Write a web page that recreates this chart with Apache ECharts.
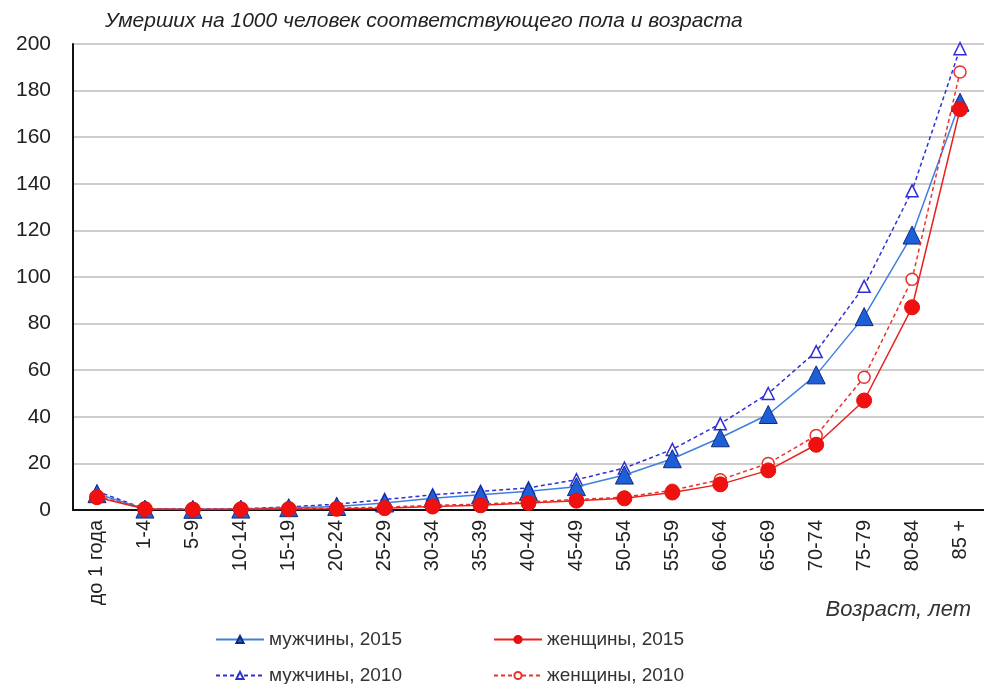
<!DOCTYPE html>
<html>
<head>
<meta charset="utf-8">
<script src="https://cdn.jsdelivr.net/npm/echarts@6/dist/echarts.min.js"></script>
<style>
  html, body { margin: 0; padding: 0; background: #fff; }
  #chart { width: 984px; height: 684px; }
</style>
</head>
<body>
<div id="chart"></div>
<script>
// возрастные группы
var ages = ['до 1 года', '1-4', '5-9', '10-14', '15-19', '20-24', '25-29', '30-34', '35-39',
  '40-44', '45-49', '50-54', '55-59', '60-64', '65-69', '70-74', '75-79', '80-84', '85 +'];

// умерших на 1000 человек
var men2015 = [7, 0.4, 0.3, 0.4, 1, 1.5, 3, 5, 6.5, 8, 10, 15, 22, 31, 41, 58, 83, 118, 175];
var women2015 = [5.5, 0.4, 0.2, 0.3, 0.4, 0.5, 0.8, 1.5, 2, 3, 4, 5, 7.5, 11, 17, 28, 47, 87, 172];
var men2010 = [8, 0.5, 0.4, 0.5, 1.3, 2.5, 4.5, 6.5, 8, 9.5, 13, 18, 26, 37, 50, 68, 96, 137, 198];
var women2010 = [6, 0.5, 0.3, 0.4, 0.6, 0.8, 1.2, 2, 2.5, 3.5, 4.5, 5.5, 8.5, 13, 20, 32, 57, 99, 188];

var yTicks = [0, 200, 20]; // min, max, шаг

var chart = echarts.init(document.getElementById('chart'));

var font = 'Liberation Sans, Arial, sans-serif';

// одна запись легенды на элемент, чтобы поставить их как в оригинале
function legendItem(name, left, top) {
  return {
    data: [name],
    left: left,
    top: top,
    itemWidth: 48,
    itemHeight: 9,
    itemGap: 4,
    textStyle: { fontFamily: font, fontSize: 19, color: '#333' }
  };
}

var option = {
  animation: false,
  title: [{
    text: 'Умерших на 1000 человек соответствующего пола и возраста',
    left: 100,
    top: 6,
    textStyle: { fontFamily: font, fontStyle: 'italic', fontWeight: 'normal', fontSize: 21, color: '#222' }
  }, {
    text: 'Возраст, лет',
    right: 8,
    top: 594,
    textStyle: { fontFamily: font, fontStyle: 'italic', fontWeight: 'normal', fontSize: 22, color: '#333' }
  }],
  legend: [
    legendItem('мужчины, 2015', 210, 625),
    legendItem('женщины, 2015', 488, 625),
    legendItem('мужчины, 2010', 210, 661),
    legendItem('женщины, 2010', 488, 661)
  ],
  grid: { left: 73, right: 0, top: 44, bottom: 174 },
  xAxis: {
    type: 'category',
    data: ages,
    boundaryGap: true,
    axisLine: { lineStyle: { color: '#111', width: 2 } },
    axisTick: { show: false },
    axisLabel: { rotate: 90, interval: 0, fontFamily: font, fontSize: 20, color: '#222', margin: 10 }
  },
  yAxis: {
    type: 'value',
    min: yTicks[0],
    max: yTicks[1],
    interval: yTicks[2],
    axisLine: { show: true, lineStyle: { color: '#111', width: 2 } },
    axisTick: { show: false },
    splitLine: { lineStyle: { color: '#bdbdbd', width: 1.5 } },
    axisLabel: { fontFamily: font, fontSize: 21, color: '#222', margin: 22 }
  },
  series: [{
    name: 'мужчины, 2010',
    type: 'line',
    data: men2010,
    symbol: 'triangle',
    symbolSize: 12,
    lineStyle: { color: '#2f2fd6', width: 1.5, type: [4, 3] },
    itemStyle: { color: '#fff', borderColor: '#2f2fd6', borderWidth: 1.5 },
    z: 2
  }, {
    name: 'мужчины, 2015',
    type: 'line',
    data: men2015,
    symbol: 'triangle',
    symbolSize: 18,
    lineStyle: { color: '#3f7fe0', width: 1.5 },
    itemStyle: { color: '#1e5fd8', borderColor: '#0d2a80', borderWidth: 1 },
    z: 3
  }, {
    name: 'женщины, 2010',
    type: 'line',
    data: women2010,
    symbol: 'circle',
    symbolSize: 12,
    lineStyle: { color: '#e8322a', width: 1.5, type: [4, 3] },
    itemStyle: { color: '#fff', borderColor: '#e8322a', borderWidth: 1.5 },
    z: 4
  }, {
    name: 'женщины, 2015',
    type: 'line',
    data: women2015,
    symbol: 'circle',
    symbolSize: 15,
    lineStyle: { color: '#e8221e', width: 1.5 },
    itemStyle: { color: '#f01010', borderColor: '#e01010', borderWidth: 1 },
    z: 5
  }]
};

chart.setOption(option);
</script>
</body>
</html>
